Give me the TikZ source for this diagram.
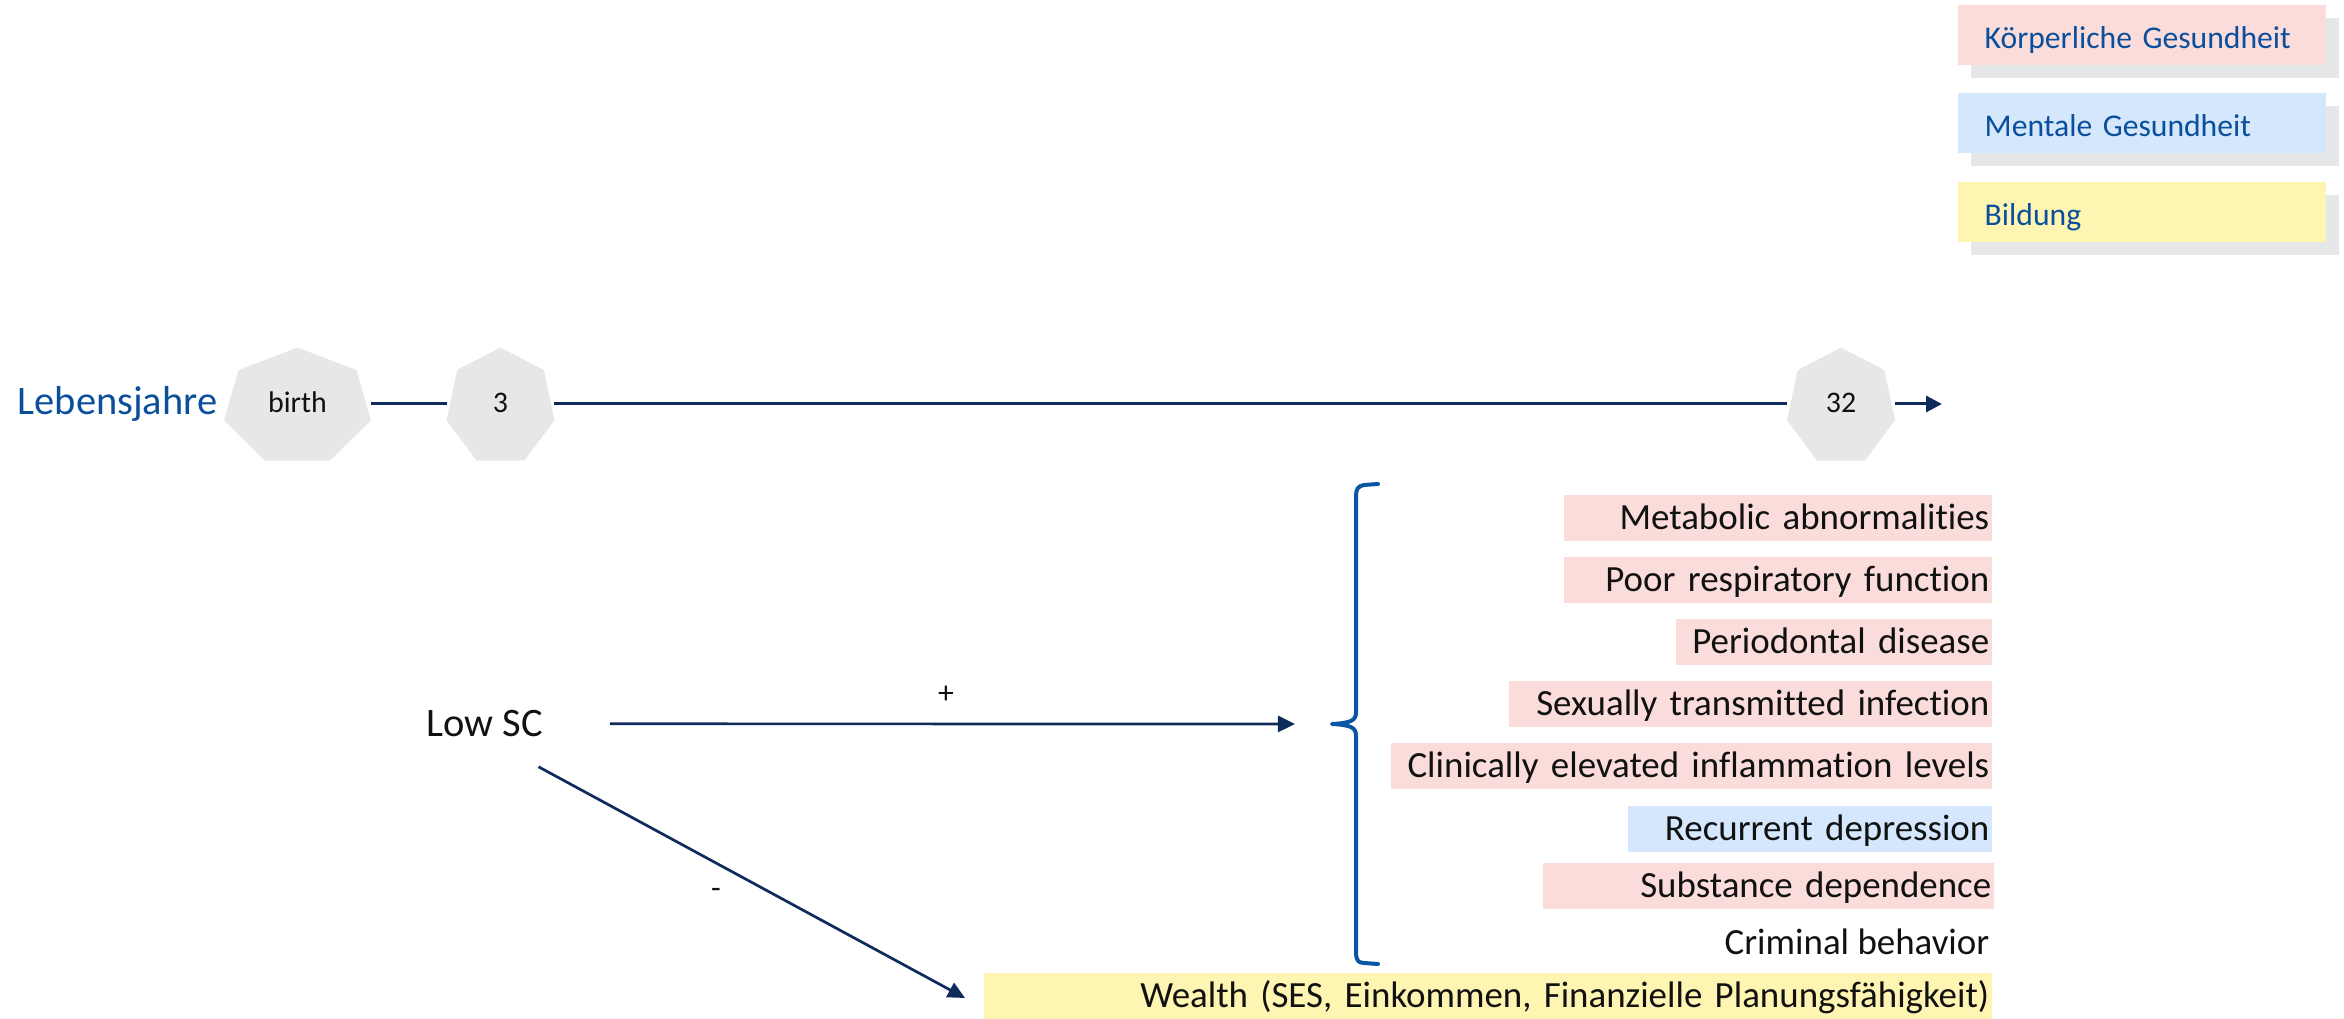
\documentclass[tikz,border=0pt]{standalone}
\usepackage{fontspec}
\setmainfont{Carlito}[Ligatures=NoCommon]
\usetikzlibrary{arrows.meta,shadows}
\definecolor{navy}{HTML}{0F2B5B}
\definecolor{braceblue}{HTML}{0B55A6}
\definecolor{legblue}{HTML}{0B4F9C}
\definecolor{pinkc}{HTML}{FADCDA}
\definecolor{bluec}{HTML}{D4E7FD}
\definecolor{yellowc}{HTML}{FEF5B2}
\definecolor{grayc}{HTML}{E6E7E9}
\definecolor{ink}{HTML}{111111}
\newcommand\heptshape[4]{\fill[heptc, shift={(#1,#2)}] (270:#3 and #4) -- (321.43:#3 and #4) -- (12.86:#3 and #4) -- (64.29:#3 and #4) -- (115.71:#3 and #4) -- (167.14:#3 and #4) -- (218.57:#3 and #4) -- cycle;}
\begin{document}
\begin{tikzpicture}[x=0.01cm,y=-0.01cm,
 heptc/.style={fill=grayc},
 tline/.style={draw=navy, line width=0.03cm},
 arr/.style={draw=navy, line width=0.027cm, -{Triangle[length=0.17cm,width=0.16cm]}},
 hlabel/.style={inner sep=0pt, minimum height=0.3cm, text height=5.1pt, text depth=0pt, text=ink, font=\fontsize{8.5}{10}\selectfont},
 legbox/.style={anchor=north west, minimum height=0.6cm, text width=3.14cm, align=left, inner xsep=0.27cm, inner ysep=0pt, text height=8pt, text depth=0pt, text=legblue, font=\fontsize{9}{11}\selectfont, general shadow={shadow xshift=0.13cm, shadow yshift=-0.13cm, fill=grayc}},
 item/.style={anchor=east, minimum height=0.46cm, inner xsep=0.03cm, inner ysep=0pt, align=right, text height=8.3pt, text depth=2pt, text=ink, font=\fontsize{10.5}{12}\selectfont},
 bracestyle/.style={draw=braceblue, line width=0.04cm, line cap=round, line join=round},
 sign/.style={inner sep=0pt, text=ink, font=\fontsize{9}{11}\selectfont},
]
\useasboundingbox (0,0) rectangle (2344,1019);
% legend
\node[legbox, fill=pinkc] (lk) at (1957,4) {Körperliche Gesundheit};
\node[legbox, fill=bluec] (lm) at (1957,92) {Mentale Gesundheit};
\node[legbox, fill=yellowc] (lb) at (1957,181) {Bildung};
% timeline
\node[anchor=base west, inner sep=0pt, text=legblue, font=\fontsize{11.5}{13}\selectfont] (leb) at (17,415) {Lebensjahre};
\heptshape{297.5}{407}{75.4}{59.4}
\heptshape{500.5}{407}{55.4}{59.4}
\heptshape{1841}{407}{55.4}{59.4}
\node[hlabel, minimum width=1.45cm] (birth) at (297.5,404) {birth};
\node[hlabel, minimum width=1.06cm] (three) at (500.5,404) {3};
\node[hlabel, minimum width=1.06cm] (t32) at (1841,404) {32};
\coordinate (tend) at (1942,404);
\draw[tline] (birth) -- (three);
\draw[tline] (three) -- (t32);
\draw[tline, -{Triangle[length=0.16cm,width=0.16cm]}] (t32) -- (tend);
% outcomes
\node[item, fill=pinkc, text width=4.22cm] (m1) at (1993,518) {Metabolic abnormalities};
\node[item, fill=pinkc, text width=4.22cm] (m2) at (1993,580) {Poor respiratory function};
\node[item, fill=pinkc, text width=3.10cm] (m3) at (1993,642) {Periodontal disease};
\node[item, fill=pinkc, text width=4.77cm] (m4) at (1993,704) {Sexually transmitted infection};
\node[item, fill=pinkc, text width=5.95cm] (m5) at (1993,766) {Clinically elevated inflammation levels};
\node[item, fill=bluec, text width=3.58cm] (m6) at (1993,829) {Recurrent depression};
\node[item, fill=pinkc, text width=4.45cm] (m7) at (1995,886) {Substance dependence};
\node[item] (m8) at (1993,943) {Criminal behavior};
\node[item, fill=yellowc, text width=10.02cm] (wealth) at (1993,996) {Wealth (SES, Einkommen, Finanzielle Planungsfähigkeit)};
% brace
\draw[bracestyle] (1378,484) -- (1364,485) .. controls (1358,486) and (1356,489) .. (1356,496) -- (1356,712) .. controls (1356,720) and (1352,723) .. (1332,724) .. controls (1352,725) and (1356,728) .. (1356,736) -- (1356,952) .. controls (1356,960) and (1358,963) .. (1364,963) -- (1378,964);
\coordinate (btip) at (1332,724);
% low SC
\node[anchor=base west, inner sep=0pt, text height=7.5pt, text depth=0pt, text=ink, font=\fontsize{11.5}{13}\selectfont] (lowsc) at (426,737) {Low SC};
\coordinate (wtip) at (965,998);
\draw[arr, shorten <=0.66cm, shorten >=0.37cm] (lowsc.east) -- (btip);
\draw[arr, shorten <=0.61cm] (lowsc.south) -- (wtip);
\node[sign] (plus) at (946,695) {+};
\node[sign] (minus) at (716,893) {-};
\end{tikzpicture}
\end{document}
